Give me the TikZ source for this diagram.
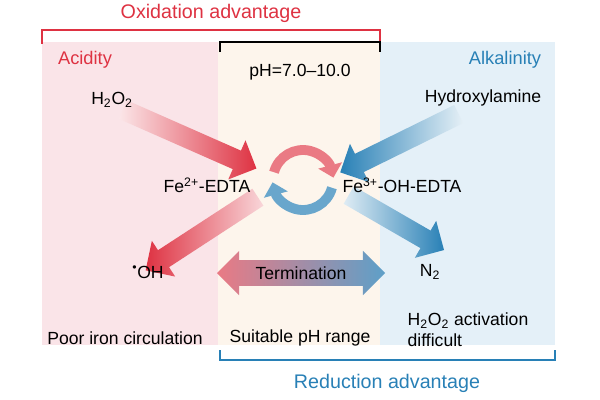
\documentclass[tikz,border=0pt]{standalone}
\usepackage{fontspec}
\setmainfont{Liberation Sans}
\usetikzlibrary{shapes.arrows, arrows.meta}
\definecolor{acidred}{RGB}{222,50,66}
\definecolor{alkblue}{RGB}{40,128,182}
\definecolor{pinkbg}{RGB}{250,228,232}
\definecolor{peachbg}{RGB}{253,245,236}
\definecolor{bluebg}{RGB}{228,240,248}
\tikzset{
  fat/.style={single arrow, single arrow head extend=8pt, inner xsep=0pt, inner ysep=7pt,
    draw=none},
  lbl/.style={font=\fontsize{12.5}{15}\selectfont, text=black},
  bracket/.style={line width=1pt}
}
\begin{document}
\begin{tikzpicture}[x=0.25mm, y=-0.25mm]
  \useasboundingbox (0,0) rectangle (600,400);
  % panels
  \fill[pinkbg] (42,42) rectangle (218,345);
  \fill[peachbg] (218,42) rectangle (380,345);
  \fill[bluebg] (380,42) rectangle (555,345);
  % brackets
  \draw[bracket, acidred] (42,44) -- (42,30) -- (380,30) -- (380,44);
  \node[lbl, text=acidred, font=\fontsize{14}{16}\selectfont] (oxadv) at (211,13) {Oxidation advantage};
  \draw[bracket, black] (220,52) -- (220,42) -- (380,42) -- (380,52);
  \node[lbl] (ph) at (300,72) {pH=7.0--10.0};
  \draw[bracket, alkblue] (220,350) -- (220,360) -- (555,360) -- (555,350);
  \node[lbl, text=alkblue, font=\fontsize{14}{16}\selectfont] (redadv) at (387,383) {Reduction advantage};
  % fat arrows
  \node[fat, minimum height=36.5mm, left color=acidred!12, right color=acidred, rotate=-23.8] (inox) at (185,137) {};
  \node[fat, minimum height=33mm, right color=alkblue!12, left color=alkblue, rotate=-153.8] (inred) at (404,141) {};
  \node[fat, minimum height=33.5mm, right color=acidred!20, left color=acidred, rotate=-146.9] (outox) at (206,231) {};
  \node[fat, minimum height=27.5mm, left color=alkblue!15, right color=alkblue, rotate=-30] (outred) at (392,220) {};
  \node[double arrow, double arrow head extend=6.5pt, inner xsep=0pt, inner ysep=9pt, minimum height=42mm,
    left color=acidred!65, right color=alkblue!75] (term) at (301,273) {};
  % cycle
  \draw[line width=7pt, acidred!65, -{Triangle[length=9pt,width=17pt]}, shorten >=-4pt] (303,180) ++(195:30) arc(195:345:30);
  \draw[line width=7pt, alkblue!70, -{Triangle[length=9pt,width=17pt]}, shorten >=-4pt] (303,180) ++(15:30) arc(15:165:30);
  % labels
  \node[lbl, text=acidred, font=\fontsize{13}{15}\selectfont] (acid) at (85,60) {Acidity};
  \node[lbl, text=alkblue, font=\fontsize{13}{15}\selectfont] (alk) at (505,60) {Alkalinity};
  \node[lbl] (h2o2) at (112,100) {H\textsubscript{2}O\textsubscript{2}};
  \node[lbl] (hyd) at (483,98) {Hydroxylamine};
  \node[lbl] (fe2) at (207,185) {Fe\textsuperscript{2+}-EDTA};
  \node[lbl] (fe3) at (402,185) {Fe\textsuperscript{3+}-OH-EDTA};
  \node[lbl] (oh) at (148,272) {\textsuperscript{•}OH};
  \node[lbl] (n2) at (430,272) {N\textsubscript{2}};
  \node[lbl] at (term) {Termination};
  \node[lbl] (poor) at (125,338) {Poor iron circulation};
  \node[lbl] (suit) at (300,338) {Suitable pH range};
  \node[lbl, align=left] (act) at (468,330) {H\textsubscript{2}O\textsubscript{2} activation\\difficult};
\end{tikzpicture}
\end{document}
